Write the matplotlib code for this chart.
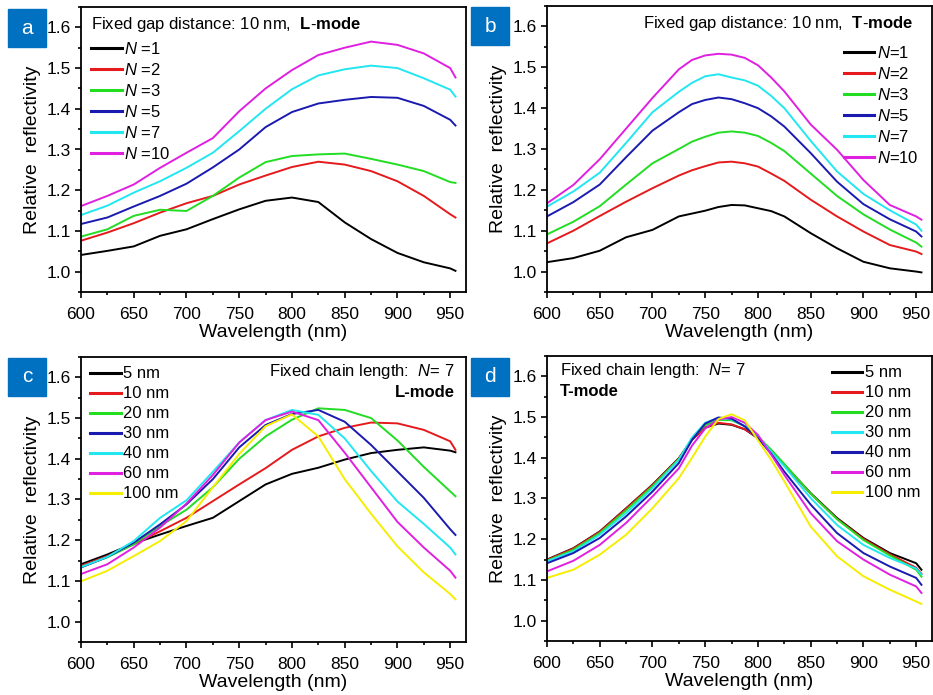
import matplotlib
matplotlib.use("Agg")
import matplotlib.pyplot as plt
from matplotlib.ticker import MultipleLocator, FormatStrFormatter
from matplotlib.patches import Rectangle

plt.rcParams['font.family'] = ['Liberation Sans', 'DejaVu Sans']
plt.rcParams['mathtext.fontset'] = 'custom'
plt.rcParams['mathtext.it'] = 'Liberation Sans:italic'
plt.rcParams['mathtext.rm'] = 'Liberation Sans'
plt.rcParams['mathtext.bf'] = 'Liberation Sans:bold'

# ---------------- data ----------------
wl = [600, 625, 650, 675, 700, 725, 750, 775, 800, 825, 850, 875, 900, 925, 950, 955]
wl_pk = [600, 625, 650, 675, 700, 725, 737.5, 750, 762.5, 775, 787.5, 800, 812.5, 825,
         850, 875, 900, 925, 950, 955]

# panel a: fixed gap 10 nm, L-mode
a_labels = ["$N$ =1", "$N$ =2", "$N$ =3", "$N$ =5", "$N$ =7", "$N$ =10"]
a_N1 = [1.041, 1.051, 1.062, 1.088, 1.104, 1.129, 1.153, 1.174, 1.182, 1.171, 1.121, 1.080, 1.046, 1.023, 1.008, 1.002]
a_N2 = [1.076, 1.096, 1.119, 1.145, 1.168, 1.186, 1.214, 1.236, 1.257, 1.270, 1.263, 1.247, 1.222, 1.186, 1.141, 1.133]
a_N3 = [1.086, 1.104, 1.137, 1.152, 1.149, 1.186, 1.231, 1.269, 1.284, 1.288, 1.290, 1.277, 1.263, 1.247, 1.220, 1.218]
a_N5 = [1.117, 1.133, 1.160, 1.186, 1.216, 1.256, 1.300, 1.355, 1.392, 1.413, 1.422, 1.429, 1.427, 1.407, 1.373, 1.359]
a_N7 = [1.139, 1.162, 1.194, 1.222, 1.255, 1.292, 1.345, 1.400, 1.448, 1.482, 1.497, 1.506, 1.500, 1.475, 1.447, 1.430]
a_N10 = [1.161, 1.186, 1.214, 1.255, 1.292, 1.328, 1.394, 1.450, 1.495, 1.532, 1.550, 1.565, 1.557, 1.536, 1.500, 1.477]

# panel b: fixed gap 10 nm, T-mode (on wl_pk)
b_labels = ["$N$=1", "$N$=2", "$N$=3", "$N$=5", "$N$=7", "$N$=10"]
b_N1 = [1.023, 1.033, 1.051, 1.084, 1.102, 1.135, 1.142, 1.149, 1.158, 1.163, 1.162, 1.155, 1.148, 1.135, 1.094, 1.057, 1.024, 1.008, 1.000, 0.998]
b_N2 = [1.069, 1.100, 1.136, 1.171, 1.204, 1.235, 1.248, 1.258, 1.267, 1.269, 1.265, 1.257, 1.240, 1.222, 1.176, 1.135, 1.098, 1.065, 1.049, 1.043]
b_N3 = [1.091, 1.122, 1.160, 1.213, 1.265, 1.300, 1.318, 1.330, 1.340, 1.343, 1.340, 1.332, 1.315, 1.295, 1.240, 1.185, 1.140, 1.103, 1.071, 1.061]
b_N5 = [1.135, 1.170, 1.213, 1.280, 1.345, 1.390, 1.410, 1.420, 1.426, 1.422, 1.412, 1.400, 1.380, 1.355, 1.290, 1.220, 1.165, 1.128, 1.098, 1.086]
b_N7 = [1.159, 1.196, 1.242, 1.315, 1.390, 1.440, 1.462, 1.478, 1.483, 1.475, 1.468, 1.455, 1.430, 1.400, 1.320, 1.245, 1.190, 1.150, 1.115, 1.100]
b_N10 = [1.167, 1.212, 1.275, 1.350, 1.425, 1.495, 1.518, 1.529, 1.533, 1.531, 1.523, 1.505, 1.475, 1.441, 1.360, 1.298, 1.224, 1.163, 1.135, 1.127]

# panel c: fixed chain length N = 7, L-mode (on wl)
gap_labels = ["5 nm", "10 nm", "20 nm", "30 nm", "40 nm", "60 nm", "100 nm"]
c_5 = [1.141, 1.165, 1.192, 1.214, 1.235, 1.255, 1.296, 1.337, 1.363, 1.378, 1.398, 1.414, 1.422, 1.428, 1.420, 1.416]
c_10 = [1.137, 1.161, 1.190, 1.222, 1.255, 1.296, 1.337, 1.377, 1.422, 1.455, 1.476, 1.489, 1.487, 1.471, 1.443, 1.422]
c_20 = [1.134, 1.158, 1.190, 1.235, 1.275, 1.330, 1.400, 1.455, 1.496, 1.524, 1.520, 1.500, 1.445, 1.380, 1.320, 1.308]
c_30 = [1.133, 1.159, 1.194, 1.239, 1.288, 1.350, 1.428, 1.483, 1.510, 1.520, 1.491, 1.434, 1.369, 1.304, 1.227, 1.213]
c_40 = [1.134, 1.159, 1.198, 1.255, 1.298, 1.368, 1.440, 1.495, 1.520, 1.508, 1.450, 1.370, 1.295, 1.240, 1.182, 1.165]
c_60 = [1.117, 1.141, 1.182, 1.231, 1.290, 1.360, 1.440, 1.495, 1.516, 1.495, 1.415, 1.330, 1.245, 1.182, 1.125, 1.108]
c_100 = [1.099, 1.125, 1.161, 1.198, 1.247, 1.330, 1.412, 1.480, 1.509, 1.455, 1.350, 1.265, 1.185, 1.121, 1.068, 1.055]

# panel d: fixed chain length N = 7, T-mode (on wl_pk)
d_5 = [1.150, 1.178, 1.219, 1.276, 1.334, 1.399, 1.445, 1.474, 1.484, 1.481, 1.470, 1.448, 1.418, 1.383, 1.313, 1.252, 1.203, 1.166, 1.141, 1.125]
d_10 = [1.149, 1.177, 1.218, 1.275, 1.333, 1.398, 1.444, 1.474, 1.486, 1.482, 1.470, 1.449, 1.417, 1.382, 1.312, 1.250, 1.201, 1.163, 1.130, 1.115]
d_20 = [1.147, 1.174, 1.215, 1.271, 1.330, 1.397, 1.447, 1.480, 1.493, 1.492, 1.478, 1.452, 1.420, 1.385, 1.312, 1.249, 1.198, 1.160, 1.125, 1.108]
d_30 = [1.146, 1.170, 1.211, 1.264, 1.325, 1.395, 1.450, 1.486, 1.498, 1.494, 1.478, 1.452, 1.415, 1.379, 1.301, 1.235, 1.186, 1.154, 1.128, 1.113]
d_40 = [1.141, 1.166, 1.203, 1.256, 1.317, 1.387, 1.444, 1.484, 1.499, 1.496, 1.477, 1.448, 1.410, 1.366, 1.285, 1.215, 1.166, 1.133, 1.105, 1.088]
d_60 = [1.121, 1.147, 1.186, 1.240, 1.305, 1.374, 1.430, 1.472, 1.494, 1.500, 1.486, 1.456, 1.408, 1.358, 1.264, 1.195, 1.150, 1.113, 1.084, 1.068]
d_100 = [1.105, 1.125, 1.162, 1.211, 1.276, 1.350, 1.400, 1.452, 1.495, 1.507, 1.492, 1.443, 1.395, 1.342, 1.231, 1.158, 1.109, 1.076, 1.047, 1.041]

# ---------------- styling ----------------
col_N = ["#000000", "#e41a1c", "#22dd22", "#1a1ab0", "#22e6f0", "#e020e0"]
col_c = ["#000000", "#e41a1c", "#22dd22", "#1a1ab0", "#22e6f0", "#e020e0", "#f5ee00"]
col_d = ["#000000", "#e41a1c", "#22dd22", "#22e6f0", "#1a1ab0", "#e020e0", "#f5ee00"]
BOX = "#0070c0"

W, H = 933, 695
fig = plt.figure(figsize=(W / 100, H / 100), dpi=100)

def px_axes(l, t, r, b):
    return fig.add_axes([l / W, 1 - b / H, (r - l) / W, (b - t) / H])

axa = px_axes(81, 7, 466, 292)
axb = px_axes(547, 6, 932, 292)
axc = px_axes(81, 357, 466, 642)
axd = px_axes(547, 356, 932, 641)

def style(ax):
    ax.set_xlim(600, 965)
    ax.set_ylim(0.95, 1.65)
    ax.xaxis.set_major_locator(MultipleLocator(50))
    ax.xaxis.set_minor_locator(MultipleLocator(25))
    ax.yaxis.set_major_locator(MultipleLocator(0.1))
    ax.yaxis.set_minor_locator(MultipleLocator(0.05))
    ax.tick_params(which='both', direction='out', top=False, right=False, width=1.2)
    ax.tick_params(which='major', length=4, labelsize=12.5)
    ax.tick_params(axis='x', which='major', pad=7)
    ax.tick_params(axis='y', which='major', pad=3)
    ax.tick_params(which='minor', length=2.5)
    ax.yaxis.set_major_formatter(FormatStrFormatter('%.1f'))
    for s in ax.spines.values():
        s.set_linewidth(1.3)
    ax.set_xlabel("Wavelength (nm)", fontsize=14, labelpad=1.5)
    ax.set_ylabel("Relative  reflectivity", fontsize=14, labelpad=4)

for ax in (axa, axb, axc, axd):
    style(ax)

lw = 1.4
for ys, c, lab in zip([a_N1, a_N2, a_N3, a_N5, a_N7, a_N10], col_N, a_labels):
    axa.plot(wl, ys, color=c, lw=lw, label=lab)
for ys, c, lab in zip([b_N1, b_N2, b_N3, b_N5, b_N7, b_N10], col_N, b_labels):
    axb.plot(wl_pk, ys, color=c, lw=lw, label=lab)
for ys, c, lab in zip([c_5, c_10, c_20, c_30, c_40, c_60, c_100], col_c, gap_labels):
    axc.plot(wl, ys, color=c, lw=lw, label=lab)
for ys, c, lab in zip([d_5, d_10, d_20, d_30, d_40, d_60, d_100], col_d, gap_labels):
    axd.plot(wl_pk, ys, color=c, lw=lw, label=lab)

leg_kw = dict(frameon=False, fontsize=12, handlelength=1.85, handletextpad=0.15,
              labelspacing=0.3, borderpad=0, borderaxespad=0)

def legend(ax, loc, anchor):
    lg = ax.legend(loc=loc, bbox_to_anchor=anchor, **leg_kw)
    for h in lg.get_lines():
        h.set_linewidth(2.2)

legend(axa, 'upper left', (0.026, 0.88))
legend(axb, 'upper right', (0.965, 0.865))
legend(axc, 'upper left', (0.023, 0.967))
legend(axd, 'upper right', (0.97, 0.967))

# annotations
axa.text(0.026, 0.94, r"Fixed gap distance: 10 nm,  $\bf{L}$-$\bf{mode}$", transform=axa.transAxes,
         fontsize=12, va='center', ha='left')
axb.text(0.952, 0.94, r"Fixed gap distance: 10 nm,  $\bf{T}$-$\bf{mode}$", transform=axb.transAxes,
         fontsize=12, va='center', ha='right')
axc.text(0.97, 0.95, r"Fixed chain length:  $N$= 7", transform=axc.transAxes,
         fontsize=12, va='center', ha='right')
axc.text(0.97, 0.875, "L-mode", transform=axc.transAxes, fontsize=12, va='center', ha='right',
         fontweight='bold')
axd.text(0.034, 0.95, r"Fixed chain length:  $N$= 7", transform=axd.transAxes,
         fontsize=12, va='center', ha='left')
axd.text(0.034, 0.875, "T-mode", transform=axd.transAxes, fontsize=12, va='center', ha='left',
         fontweight='bold')

# panel letter boxes
for (x, y, letter) in [(8, 9, 'a'), (471, 7, 'b'), (8, 358, 'c'), (471, 358, 'd')]:
    fig.patches.append(Rectangle((x / W, 1 - (y + 38) / H), 38 / W, 38 / H,
                                 transform=fig.transFigure, color=BOX, zorder=5))
    fig.text((x + 19) / W, 1 - (y + 19) / H, letter, color='white', fontsize=15,
             ha='center', va='center', zorder=6)

fig.savefig("out.png", dpi=100)
